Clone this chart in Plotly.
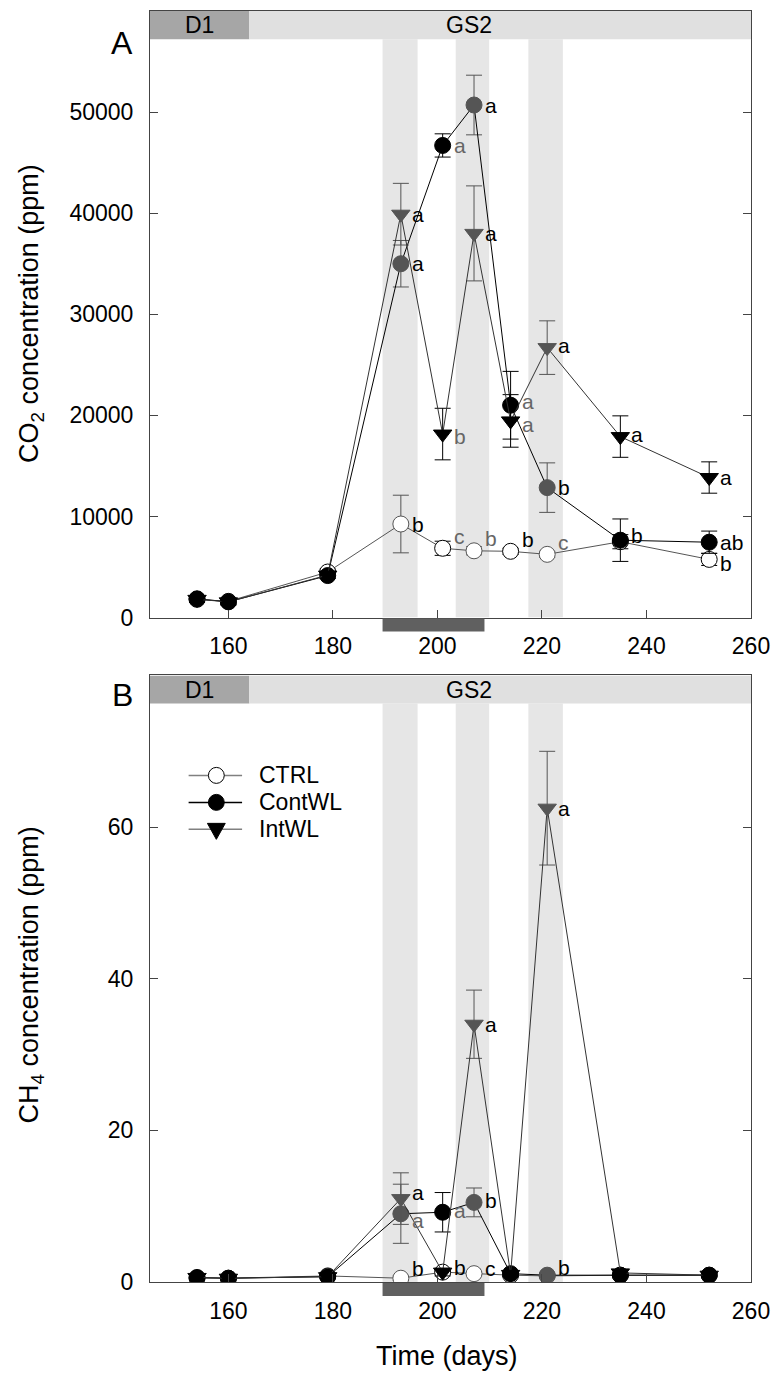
import plotly.graph_objects as go

# ---------------- data ----------------
days = [154, 160, 179, 193, 201, 207, 214, 221, 235, 252]

ctrl_co2 = [1800, 1600, 4500, 9250, 6850, 6600, 6550, 6250, 7500, 5750]
ctrl_co2_err = [300, 200, 300, 2850, 700, 400, 300, 300, 700, 600]
cont_co2 = [1850, 1550, 4150, 35000, 46700, 50700, 21000, 12850, 7650, 7450]
cont_co2_err = [300, 300, 300, 2300, 1150, 2950, 3350, 2450, 2100, 1100]
int_co2 = [1800, 1550, 4200, 39900, 18150, 38000, 19450, 26700, 17900, 13850]
int_co2_err = [300, 300, 300, 3050, 2550, 4700, 2600, 2650, 2050, 1550]

ctrl_ch4 = [0.5, 0.5, 0.8, 0.5, 1.3, 1.1, 0.9, 0.8, 0.9, 0.9]
ctrl_ch4_err = [0.2, 0.2, 0.2, 0.3, 0.3, 0.3, 0.2, 0.2, 0.2, 0.2]
cont_ch4 = [0.6, 0.5, 0.7, 9.0, 9.2, 10.5, 1.1, 0.9, 0.9, 0.9]
cont_ch4_err = [0.2, 0.2, 0.2, 3.9, 2.6, 1.9, 0.3, 0.2, 0.2, 0.2]
int_ch4 = [0.6, 0.5, 0.7, 11.0, 1.3, 34.0, 1.0, 62.5, 1.2, 0.9]
int_ch4_err = [0.2, 0.2, 0.2, 3.4, 0.5, 4.5, 0.3, 7.5, 0.3, 0.2]

# significance letters
ctrl_co2_let = ["", "", "", "b", "c", "b", "b", "c", "", "b"]
cont_co2_let = ["", "", "", "a", "a", "a", "a", "b", "b", "ab"]
int_co2_let = ["", "", "", "a", "b", "a", "a", "a", "a", "a"]
ctrl_ch4_let = ["", "", "", "b", "", "c", "", "", "", ""]
cont_ch4_let = ["", "", "", "a", "a", "b", "", "b", "", ""]
int_ch4_let = ["", "", "", "a", "b", "a", "", "a", "", ""]

series_names = ["CTRL", "ContWL", "IntWL"]

# shaded periods (days)
bands = [(189.5, 196.2), (203.5, 209.9), (217.4, 224.0)]
treat_bar = (189.5, 209.0)
phases = [("D1", 145, 164), ("GS2", 164, 260)]
xticks = [160, 180, 200, 220, 240, 260]

# ---------------- styles ----------------
FONT = "Arial, Liberation Sans, sans-serif"
GREY = "#555555"
W, H = 780, 1376
ML, MR, MT, MB = 150, 23, 10, 94
PH = H - MT - MB
PW = W - ML - MR


def py(pix):  # pixel y -> paper y
    return (H - MB - pix) / PH


def px(pix):
    return (pix - ML) / PW


in_band = [any(a <= d <= b for a, b in bands) for d in days]

fig = go.Figure()

panels = [
    dict(xa="x", ya="y", ymax=60000, hdr=57200,
         series=[
             (ctrl_co2, ctrl_co2_err, ctrl_co2_let),
             (cont_co2, cont_co2_err, cont_co2_let),
             (int_co2, int_co2_err, int_co2_let)]),
    dict(xa="x2", ya="y2", ymax=80, hdr=76.3,
         series=[
             (ctrl_ch4, ctrl_ch4_err, ctrl_ch4_let),
             (cont_ch4, cont_ch4_err, cont_ch4_let),
             (int_ch4, int_ch4_err, int_ch4_let)]),
]

sty = {
    "CTRL": dict(symbol="circle", line="#555555", leg="#808080"),
    "ContWL": dict(symbol="circle", line="#000000", leg="#000000"),
    "IntWL": dict(symbol="triangle-down", line="#333333", leg="#808080"),
}

# label offsets (pixels) and grey-coloured labels per panel/series
lab_dy = {
    (0, "CTRL"): [0, 0, 0, 0, 12, 12, 12, 12, 0, -4],
    (0, "ContWL"): [0, 0, 0, 0, 0, 0, 4, 0, 5, 0],
    (0, "IntWL"): [0, 0, 0, 0, -2, 0, -4, 2, 2, 0],
    (1, "CTRL"): [0, 0, 0, 10, 0, 5, 0, 0, 0, 0],
    (1, "ContWL"): [0, 0, 0, -7, 2, 2, 0, 8, 0, 0],
    (1, "IntWL"): [0, 0, 0, 6, 5, 0, 0, 0, 0, 0],
}
lab_grey = {
    (0, "CTRL"): [201, 207, 221],
    (0, "ContWL"): [201, 214],
    (0, "IntWL"): [201, 214],
    (1, "CTRL"): [],
    (1, "ContWL"): [193, 201],
    (1, "IntWL"): [],
}

annotations = []
shapes = []

for pi, p in enumerate(panels):
    for name, (vals, errs, lets) in zip(series_names, p["series"]):
        s = sty[name]
        # error bars: grey inside shaded periods, black outside
        for flag, col in ((True, GREY), (False, "#000000")):
            xs = [d for d, f in zip(days, in_band) if f == flag]
            ys = [v for v, f in zip(vals, in_band) if f == flag]
            es = [e for e, f in zip(errs, in_band) if f == flag]
            fig.add_trace(go.Scatter(
                x=xs, y=ys, xaxis=p["xa"], yaxis=p["ya"], mode="markers",
                marker=dict(size=1, color="rgba(0,0,0,0)"),
                error_y=dict(type="data", array=es, visible=True, color=col,
                             thickness=1, width=8),
                showlegend=False, hoverinfo="skip"))
        if name == "CTRL":
            fill = ["#ffffff"] * len(days)
            outl = [GREY if f else "#000000" for f in in_band]
        else:
            fill = [GREY if f else "#000000" for f in in_band]
            outl = fill
        fig.add_trace(go.Scatter(
            x=days, y=vals, xaxis=p["xa"], yaxis=p["ya"], mode="lines+markers",
            name=name, showlegend=False,
            line=dict(color=s["line"], width=1),
            marker=dict(symbol=s["symbol"], size=16, color=fill,
                        line=dict(color=outl, width=1))))
        dys = lab_dy[(pi, name)]
        greys = lab_grey[(pi, name)]
        for d, v, t, dy in zip(days, vals, lets, dys):
            if not t:
                continue
            annotations.append(dict(
                x=d, y=v, xref=p["xa"], yref=p["ya"], text=t, showarrow=False,
                xanchor="left", yanchor="middle", xshift=9, yshift=dy,
                font=dict(family=FONT, size=21,
                          color=("#666666" if d in greys else "#000000"))))

    # shaded bands
    for a, b in bands:
        shapes.append(dict(type="rect", xref=p["xa"], yref=p["ya"],
                           x0=a, x1=b, y0=0, y1=p["hdr"],
                           fillcolor="#e6e6e6", line=dict(width=0), layer="below"))
    # phase header
    for lbl, a, b in phases:
        shapes.append(dict(type="rect", xref=p["xa"], yref=p["ya"],
                           x0=a, x1=b, y0=p["hdr"], y1=p["ymax"],
                           fillcolor=("#a6a6a6" if lbl == "D1" else "#e0e0e0"),
                           line=dict(width=0), layer="below"))
        annotations.append(dict(
            x=(a + b) / 2 - (6 if lbl == "GS2" else 0), y=(p["hdr"] + p["ymax"]) / 2,
            xref=p["xa"], yref=p["ya"], text=lbl, showarrow=False,
            xanchor="center", yanchor="middle",
            font=dict(family=FONT, size=23, color="#000000")))

# treatment bars below each x-axis
for ax_pix, xa in ((617, "x"), (1282, "x2")):
    shapes.append(dict(type="rect", xref=xa, yref="paper",
                       x0=treat_bar[0], x1=treat_bar[1],
                       y0=py(ax_pix + 14), y1=py(ax_pix + 1),
                       fillcolor="#606060", line=dict(width=0), layer="above"))

# hand-drawn legend (panel B)
leg_rows = {"CTRL": 775, "ContWL": 802, "IntWL": 829}
for name in series_names:
    yy = leg_rows[name]
    s = sty[name]
    shapes.append(dict(type="line", xref="paper", yref="paper",
                       x0=px(189), x1=px(243), y0=py(yy), y1=py(yy),
                       line=dict(color=s["leg"], width=1.5), layer="above"))
    if s["symbol"] == "circle":
        shapes.append(dict(type="circle", xref="paper", yref="paper",
                           x0=px(209), x1=px(225), y0=py(yy + 8), y1=py(yy - 8),
                           fillcolor=("#ffffff" if name == "CTRL" else "#000000"),
                           line=dict(color="#000000", width=1), layer="above"))
    else:
        path = "M{:.5f},{:.5f} L{:.5f},{:.5f} L{:.5f},{:.5f} Z".format(
            px(208), py(yy - 6), px(226), py(yy - 6), px(217), py(yy + 10))
        shapes.append(dict(type="path", xref="paper", yref="paper", path=path,
                           fillcolor="#000000", line=dict(color="#000000", width=1),
                           layer="above"))
    annotations.append(dict(x=px(258), y=py(yy), xref="paper", yref="paper",
                            text=name, showarrow=False, xanchor="left",
                            yanchor="middle",
                            font=dict(family=FONT, size=23, color="#000")))

# axis titles and panel letters
annotations += [
    dict(x=px(30), y=py(313), xref="paper", yref="paper", showarrow=False,
         xanchor="center", yanchor="middle",
         text="CO<sub>2</sub> concentration (ppm)", textangle=-90,
         font=dict(family=FONT, size=27, color="#000")),
    dict(x=px(30), y=py(975), xref="paper", yref="paper", showarrow=False,
         xanchor="center", yanchor="middle",
         text="CH<sub>4</sub> concentration (ppm)", textangle=-90,
         font=dict(family=FONT, size=27, color="#000")),
    dict(x=px(450), y=py(1356), xref="paper", yref="paper", showarrow=False,
         xanchor="center", yanchor="middle",
         text="Time (days)", font=dict(family=FONT, size=27, color="#000")),
    dict(x=px(122), y=py(42), xref="paper", yref="paper", showarrow=False,
         xanchor="center", yanchor="middle",
         text="A", font=dict(family=FONT, size=32, color="#000")),
    dict(x=px(122), y=py(695), xref="paper", yref="paper", showarrow=False,
         xanchor="center", yanchor="middle",
         text="B", font=dict(family=FONT, size=32, color="#000")),
]

xcommon = dict(range=[145, 260], tickvals=xticks, ticks="inside", ticklen=8,
               tickcolor="#444", showline=True, linecolor="#444", linewidth=1,
               mirror=True, showgrid=False, zeroline=False,
               tickfont=dict(family=FONT, size=23, color="#000"),
               ticklabelstandoff=8)
ycommon = dict(ticks="inside", ticklen=8, tickcolor="#444", showline=True,
               linecolor="#444", linewidth=1, mirror="ticks", showgrid=False,
               zeroline=False, tickfont=dict(family=FONT, size=23, color="#000"),
               ticklabelstandoff=11, tickformat="d")

top_dom = [1 - 607 / PH, 1]
bot_dom = [0, 607 / PH]

fig.update_layout(
    width=W, height=H, margin=dict(l=ML, r=MR, t=MT, b=MB),
    paper_bgcolor="white", plot_bgcolor="white",
    xaxis=dict(xcommon, anchor="y", domain=[0, 1]),
    yaxis=dict(ycommon, anchor="x", domain=top_dom, range=[0, 60000],
               tickvals=[0, 10000, 20000, 30000, 40000, 50000]),
    xaxis2=dict(xcommon, anchor="y2", domain=[0, 1]),
    yaxis2=dict(ycommon, anchor="x2", domain=bot_dom, range=[0, 80],
                tickvals=[0, 20, 40, 60]),
    shapes=shapes, annotations=annotations,
    showlegend=False,
)

fig.write_html("out.html")
